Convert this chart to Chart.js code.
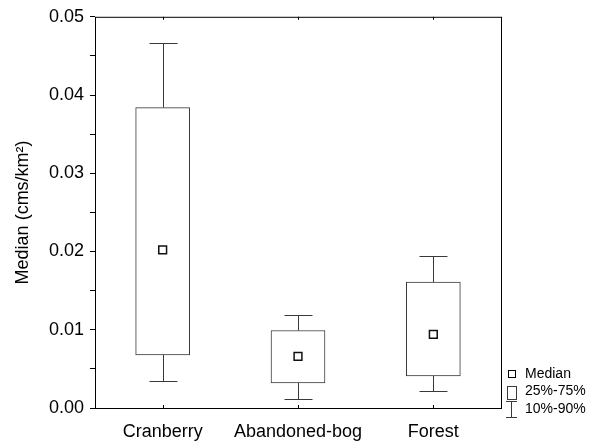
<!DOCTYPE html>
<html>
<head>
<meta charset="utf-8">
<script src="https://cdn.jsdelivr.net/npm/chart.js@4.4.0/dist/chart.umd.min.js"></script>
<style>
  html, body { margin: 0; padding: 0; background: #fff; }
  #wrap { width: 592px; height: 441px; }
</style>
</head>
<body>
<div id="wrap"><canvas id="chart"></canvas></div>
<script>
// Runoff medians per land use: 10th, 25th, 50th, 75th and 90th percentiles
const categories = ['Cranberry', 'Abandoned-bog', 'Forest'];
const p10 = [0.0034, 0.0011, 0.0022];
const q25 = [0.0068, 0.0032, 0.0041];
const medians = [0.0202, 0.0066, 0.0094];
const q75 = [0.0384, 0.0099, 0.0161];
const p90 = [0.0466, 0.0119, 0.0194];
const legendLabels = ['Median', '25%-75%', '10%-90%'];

const FONT = '"Liberation Sans", Arial, sans-serif';
const LINE = '#3a3a3a';

const boxExtras = {
  id: 'boxExtras',
  beforeDatasetsDraw(chart) {
    // whiskers: stem from box edge to percentile, with a cap
    const { ctx, scales: { x, y } } = chart;
    ctx.save();
    ctx.strokeStyle = LINE;
    ctx.lineWidth = 1;
    categories.forEach((c, i) => {
      const cx = Math.round(x.getPixelForValue(i + 1)) + 0.5;
      const capHalf = 14;
      [[q75[i], p90[i]], [q25[i], p10[i]]].forEach(([from, to]) => {
        const y0 = y.getPixelForValue(from);
        const y1 = Math.round(y.getPixelForValue(to)) + 0.5;
        ctx.beginPath();
        ctx.moveTo(cx, y0);
        ctx.lineTo(cx, y1);
        ctx.moveTo(cx - capHalf, y1);
        ctx.lineTo(cx + capHalf, y1);
        ctx.stroke();
      });
    });
    ctx.restore();
  },
  afterDraw(chart) {
    const { ctx, chartArea: a, scales: { x } } = chart;
    ctx.save();
    // frame round the plot
    ctx.strokeStyle = '#000';
    ctx.lineWidth = 1;
    ctx.strokeRect(a.left + 0.5, a.top + 0.5, a.right - a.left, a.bottom - a.top);
    // small inward ticks at each category, top and bottom
    categories.forEach((c, i) => {
      const cx = Math.round(x.getPixelForValue(i + 1)) + 0.5;
      ctx.beginPath();
      ctx.moveTo(cx, a.bottom);
      ctx.lineTo(cx, a.bottom - 3);
      ctx.moveTo(cx, a.top);
      ctx.lineTo(cx, a.top + 3);
      ctx.stroke();
    });

    // key in the bottom right corner
    const sx = a.right + 10.5;
    const tx = a.right + 24;
    const rows = [a.bottom - 34, a.bottom - 16.5, a.bottom + 1];
    ctx.font = '14px ' + FONT;
    ctx.fillStyle = '#000';
    ctx.textBaseline = 'middle';
    legendLabels.forEach((t, i) => ctx.fillText(t, tx, rows[i]));

    ctx.strokeStyle = '#000';
    ctx.strokeRect(Math.round(sx - 4) + 0.5, Math.round(rows[0] - 4) + 0.5, 7, 7);
    ctx.strokeStyle = LINE;
    ctx.strokeRect(Math.round(sx - 5) + 0.5, Math.round(rows[1] - 6) + 0.5, 9, 13);
    ctx.beginPath();
    ctx.moveTo(sx, rows[2] - 8);
    ctx.lineTo(sx, rows[2] + 8);
    ctx.moveTo(sx - 5.5, Math.round(rows[2] - 8) + 0.5);
    ctx.lineTo(sx + 5.5, Math.round(rows[2] - 8) + 0.5);
    ctx.moveTo(sx - 5.5, Math.round(rows[2] + 8) + 0.5);
    ctx.lineTo(sx + 5.5, Math.round(rows[2] + 8) + 0.5);
    ctx.stroke();
    ctx.restore();
  }
};

new Chart(document.getElementById('chart'), {
  type: 'bar',
  data: {
    datasets: [
      {
        type: 'bar',
        label: '25%-75%',
        data: categories.map((c, i) => ({ x: i + 1, y: [q25[i], q75[i]] })),
        backgroundColor: '#fff',
        borderColor: LINE,
        borderWidth: 1,
        borderSkipped: false,
        barThickness: 54,
        order: 2
      },
      {
        type: 'scatter',
        label: 'Median',
        data: categories.map((c, i) => ({ x: i + 1, y: medians[i] })),
        pointStyle: 'rect',
        pointRadius: 5.5,
        pointBorderWidth: 1.5,
        pointBackgroundColor: '#fff',
        pointBorderColor: '#111',
        order: 1
      }
    ]
  },
  options: {
    responsive: true,
    maintainAspectRatio: false,
    animation: false,
    layout: { padding: { left: 0, top: 16, right: 91, bottom: 0 } },
    plugins: { legend: { display: false }, tooltip: { enabled: false } },
    scales: {
      x: {
        type: 'linear',
        offset: false,
        min: 0.5,
        max: 3.5,
        afterBuildTicks: (axis) => { axis.ticks = categories.map((c, i) => ({ value: i + 1 })); },
        afterFit: (axis) => { axis.height = 33; },
        grid: { display: false },
        border: { display: false },
        ticks: {
          padding: 5,
          color: '#000',
          font: { family: FONT, size: 18 },
          callback: (v) => categories[v - 1] || ''
        }
      },
      y: {
        min: 0,
        max: 0.05,
        afterFit: (axis) => { axis.width = 95; },
        grid: { drawOnChartArea: false, drawTicks: true, tickLength: 5, color: '#000' },
        border: { display: false },
        ticks: {
          stepSize: 0.005,
          padding: 6,
          color: '#000',
          font: { family: FONT, size: 18 },
          callback: (v) => (Math.round(v * 1000) % 10 === 0 ? v.toFixed(2) : '')
        },
        title: {
          display: true,
          text: 'Median (cms/km²)',
          color: '#000',
          font: { family: FONT, size: 18 },
          padding: { top: 12, bottom: 0 }
        }
      }
    }
  },
  plugins: [boxExtras]
});
</script>
</body>
</html>
